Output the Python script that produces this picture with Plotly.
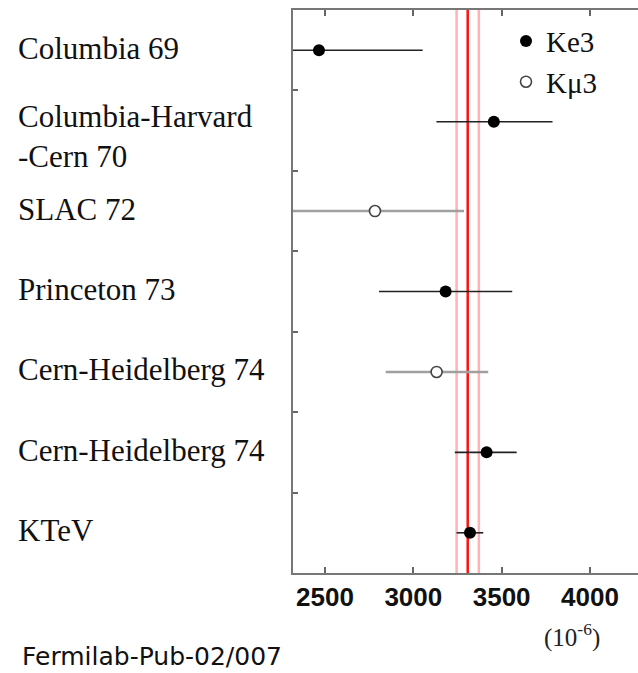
import plotly.graph_objects as go

# ---- data ----
experiments = ["Columbia 69", "Columbia-Harvard<br>-Cern 70", "SLAC 72", "Princeton 73",
               "Cern-Heidelberg 74", "Cern-Heidelberg 74", "KTeV"]
row_pos = [0, 0.89, 2, 3, 4, 5, 6]
values = [2466, 3456, 2783, 3183, 3132, 3415, 3321]
err_minus = [587, 325, 504, 377, 288, 180, 76]
err_plus = [587, 332, 504, 377, 292, 170, 75]
mode = ["Ke3", "Ke3", "Kmu3", "Ke3", "Kmu3", "Ke3", "Ke3"]
average = 3308
average_err = 63
x_ticks = [2500, 3000, 3500, 4000]

fig = go.Figure()

def subset(m):
    idx = [i for i, k in enumerate(mode) if k == m]
    return ([values[i] for i in idx], [row_pos[i] for i in idx],
            [err_plus[i] for i in idx], [err_minus[i] for i in idx])

x, y, ep, em = subset("Ke3")
fig.add_trace(go.Scatter(
    x=x, y=y, mode="markers", name="Ke3",
    marker=dict(symbol="circle", size=12, color="black"),
    error_x=dict(type="data", array=ep, arrayminus=em, color="#222222",
                 thickness=1.6, width=0),
))
x, y, ep, em = subset("Kmu3")
fig.add_trace(go.Scatter(
    x=x, y=y, mode="markers", name="Kμ3",
    marker=dict(symbol="circle", size=11, color="white",
                line=dict(color="#444444", width=1.6)),
    error_x=dict(type="data", array=ep, arrayminus=em, color="#a0a0a0",
                 thickness=2.4, width=0),
))

# average band
for xv, col, w in [(average - average_err, "#ffb3b3", 2.5),
                   (average + average_err, "#ffb3b3", 2.5),
                   (average, "#ff1010", 2.5)]:
    fig.add_shape(type="line", xref="x", yref="paper", x0=xv, x1=xv, y0=0, y1=1,
                  line=dict(color=col, width=w), layer="below")

# experiment labels
plot_w = 638 - 293
for name, r in zip(experiments, row_pos):
    ys = -6 if "<br>" in name else 2
    r_use = 1 if "<br>" in name else r
    fig.add_annotation(x=(16 - 293) / plot_w, xref="paper", y=r_use, yref="y",
                       text=name, showarrow=False, xanchor="left", yanchor="middle",
                       align="left", yshift=ys,
                       font=dict(family="Liberation Serif", size=31, color="#111111"))

fig.add_annotation(x=(572 - 293) / plot_w, xref="paper", y=-44 / 565, yref="paper",
                   text="(10<sup>-6</sup>)", showarrow=False, xanchor="center",
                   yanchor="top",
                   font=dict(family="Liberation Serif", size=25, color="#222222"))
fig.add_annotation(x=(20 - 293) / plot_w, xref="paper", y=-67 / 565, yref="paper",
                   text="Fermilab-Pub-02/007", showarrow=False, xanchor="left",
                   yanchor="top",
                   font=dict(family="DejaVu Sans", size=25, color="#111111"))

fig.update_layout(
    width=638, height=673,
    margin=dict(l=293, r=0, t=10, b=100),
    paper_bgcolor="white", plot_bgcolor="white",
    showlegend=True,
    legend=dict(x=(506 - 293) / plot_w, y=0.99, xanchor="left", yanchor="top",
                bgcolor="rgba(0,0,0,0)", borderwidth=0, itemwidth=30,
                tracegroupgap=4,
                font=dict(family="Liberation Serif", size=29, color="#111111")),
    xaxis=dict(range=[2319, 4272], tickvals=x_ticks, ticks="inside", ticklen=6,
               tickwidth=2, tickcolor="#666666", showline=True, linecolor="#777777",
               linewidth=2, mirror="ticks", showgrid=False, zeroline=False,
               tickfont=dict(family="Liberation Sans", size=26, color="#111111",
                             weight="bold")),
    yaxis=dict(range=[6.5, -0.5], tickvals=[0.5, 1.5, 2.5, 3.5, 4.5, 5.5],
               showticklabels=False, ticks="inside", ticklen=5, tickwidth=1.5,
               tickcolor="#666666", showline=True, linecolor="#777777", linewidth=2,
               showgrid=False, zeroline=False),
)

fig.write_html("out.html")
